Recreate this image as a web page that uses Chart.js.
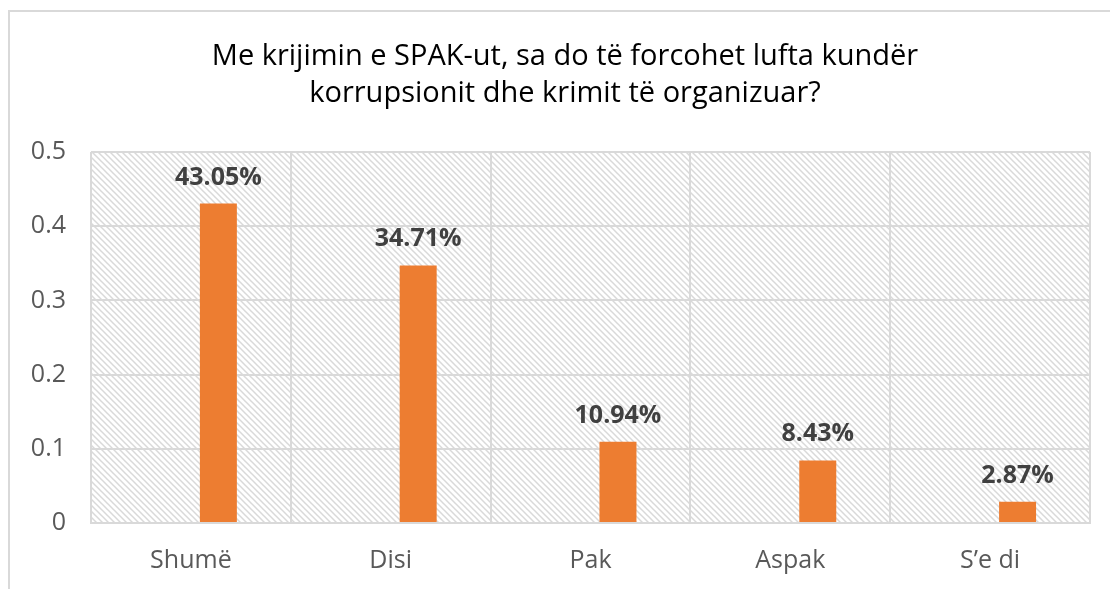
<!DOCTYPE html>
<html>
<head>
<meta charset="utf-8">
<script src="https://cdn.jsdelivr.net/npm/chart.js@4"></script>
<style>
  html, body { margin: 0; padding: 0; background: #fff; }
  #wrap { width: 1110px; height: 589px; }
</style>
</head>
<body>
<div id="wrap"><canvas id="chart" width="1110" height="589"></canvas></div>
<script>
const titleLines = ["Me krijimin e SPAK-ut, sa do të forcohet lufta kundër", "korrupsionit dhe krimit të organizuar?"];
const categories = ["Shumë", "Disi", "Pak", "Aspak", "S\u2019e di"];
const shares = [0.4305, 0.3471, 0.1094, 0.0843, 0.0287];
// empty first series in the source sheet, this is what pushes bars right of centre
const emptySeries = [null, null, null, null, null];
const yTicks = [0, 0.1, 0.2, 0.3, 0.4, 0.5];

const fontFam = "'Open Sans', 'Noto Sans', sans-serif";

function hatch() {
  const c = document.createElement('canvas');
  c.width = 6; c.height = 6;
  const g = c.getContext('2d');
  g.fillStyle = '#fff';
  g.fillRect(0, 0, 6, 6);
  g.strokeStyle = '#d9d9d9';
  g.lineWidth = 1.5;
  g.beginPath();
  g.moveTo(-1, -1); g.lineTo(7, 7);
  g.moveTo(-4, 2); g.lineTo(4, 10);
  g.moveTo(2, -4); g.lineTo(10, 4);
  g.stroke();
  return g.createPattern(c, 'repeat');
}

const backdrop = {
  id: 'backdrop',
  beforeDraw(chart) {
    const ctx = chart.ctx, a = chart.chartArea;
    ctx.save();
    ctx.fillStyle = '#fff';
    ctx.fillRect(0, 0, chart.width, chart.height);
    ctx.strokeStyle = '#d9d9d9';
    ctx.lineWidth = 2;
    ctx.strokeRect(9, 11, chart.width + 10, chart.height + 10);
    ctx.fillStyle = hatch();
    ctx.fillRect(a.left, a.top, a.right - a.left, a.bottom - a.top);
    // title, centred a little right of the canvas middle like the original
    ctx.font = "29px " + fontFam;
    ctx.fillStyle = '#000';
    ctx.textAlign = 'center';
    ctx.textBaseline = 'middle';
    titleLines.forEach((t, i) => ctx.fillText(t, 565, 56.5 + i * 37));
    ctx.restore();
  }
};

const valueLabels = {
  id: 'valueLabels',
  afterDatasetsDraw(chart) {
    const ctx = chart.ctx;
    const meta = chart.getDatasetMeta(1);
    ctx.save();
    ctx.font = "bold 25px " + fontFam;
    ctx.fillStyle = '#404040';
    ctx.textAlign = 'center';
    ctx.textBaseline = 'alphabetic';
    meta.data.forEach((bar, i) => {
      ctx.fillText((shares[i] * 100).toFixed(2) + '%', bar.x, bar.y - 19);
    });
    ctx.restore();
  }
};

new Chart(document.getElementById('chart').getContext('2d'), {
  type: 'bar',
  data: {
    labels: categories,
    datasets: [
      { data: emptySeries, backgroundColor: '#4472c4' },
      { data: shares, backgroundColor: '#ed7d31' }
    ]
  },
  options: {
    responsive: false,
    animation: false,
    layout: { padding: { left: 0, right: 20, top: 152, bottom: 0 } },
    datasets: { bar: { categoryPercentage: 0.55, barPercentage: 0.673 } },
    plugins: {
      legend: { display: false },
      tooltip: { enabled: false },
      title: { display: false }
    },
    scales: {
      x: {
        grid: { color: '#d9d9d9', lineWidth: 2, drawTicks: false, offset: true },
        border: { color: '#d9d9d9', width: 2 },
        ticks: { color: '#595959', font: { family: fontFam, size: 25 }, padding: 23 },
        afterFit(s) { s.height = 66; }
      },
      y: {
        min: 0, max: 0.5,
        afterBuildTicks(s) { s.ticks = yTicks.map(v => ({ value: v })); },
        grid: { color: '#d9d9d9', lineWidth: 2, drawTicks: false },
        border: { display: false },
        ticks: { color: '#595959', font: { family: fontFam, size: 25 }, padding: 25 },
        afterFit(s) { s.width = 91; }
      }
    }
  },
  plugins: [backdrop, valueLabels]
});
</script>
</body>
</html>
